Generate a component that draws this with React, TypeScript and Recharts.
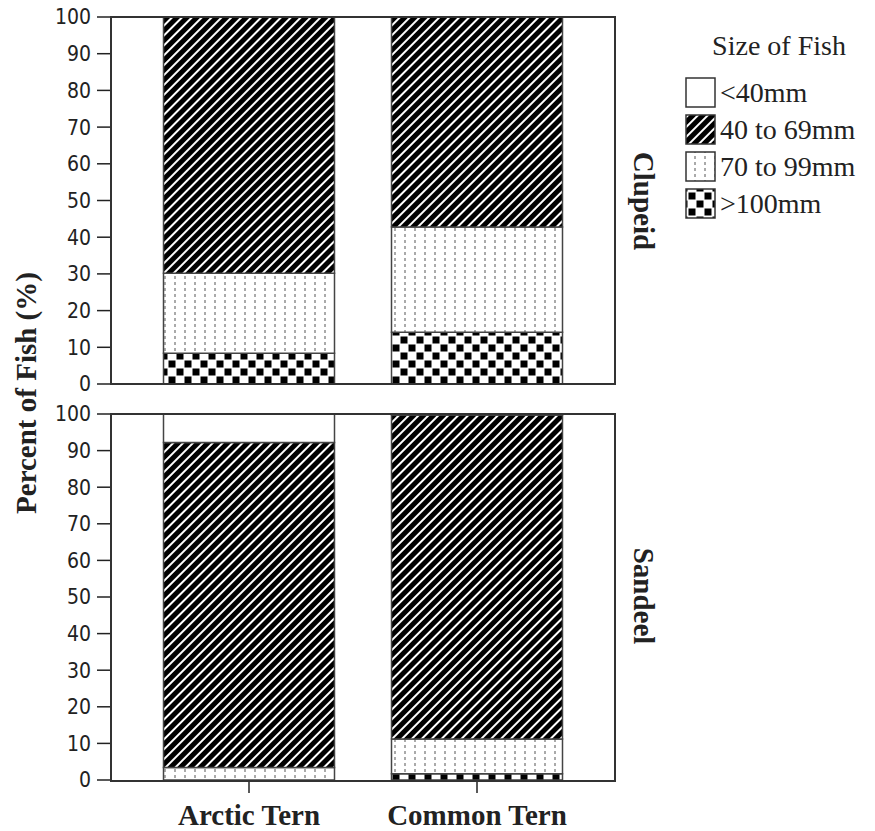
import React from "react"
import { BarChart, Bar, XAxis, YAxis } from "recharts"

// categories and legend labels
const terns = ["Arctic Tern", "Common Tern"]
const sizeLabels = ["<40mm", "40 to 69mm", "70 to 99mm", ">100mm"]
const yTicks = [0, 10, 20, 30, 40, 50, 60, 70, 80, 90, 100]

// Clupeid panel, percent of fish per size class
const clupeidOver100 = [8.4, 14.1]
const clupeid70to99 = [21.8, 28.7]
const clupeid40to69 = [69.8, 57.2]
const clupeidUnder40 = [0, 0]

// Sandeel panel
const sandeelOver100 = [0, 1.7]
const sandeel70to99 = [3.4, 9.5]
const sandeel40to69 = [88.8, 88.5]
const sandeelUnder40 = [7.8, 0.3]

const clupeidData = terns.map((tern, i) => ({
  tern,
  over100: clupeidOver100[i],
  mid: clupeid70to99[i],
  small: clupeid40to69[i],
  under40: clupeidUnder40[i],
}))

const sandeelData = terns.map((tern, i) => ({
  tern,
  over100: sandeelOver100[i],
  mid: sandeel70to99[i],
  small: sandeel40to69[i],
  under40: sandeelUnder40[i],
}))

const fills = ["#ffffff", "url(#stripes)", "url(#dots)", "url(#chk)"]

const serif = "'Liberation Serif', 'Times New Roman', serif"
const narrow = "'Liberation Sans Narrow', 'DejaVu Sans Condensed', sans-serif"
const ink = "#222"

function Patterns() {
  return (
    <svg width={0} height={0} style={{ position: "absolute" }}>
      <defs>
        <pattern id="stripes" patternUnits="userSpaceOnUse" width={7} height={7} patternTransform="rotate(45)">
          <rect width={7} height={7} fill="#000" />
          <rect x={0} y={0} width={2} height={7} fill="#fff" />
        </pattern>
        <pattern id="dots" patternUnits="userSpaceOnUse" width={10} height={6}>
          <rect width={10} height={6} fill="#fff" />
          <line x1={5} y1={0} x2={5} y2={3} stroke="#555" strokeWidth={1} />
        </pattern>
        <pattern id="chk" patternUnits="userSpaceOnUse" width={16} height={16}>
          <rect width={16} height={16} fill="#fff" />
          <rect x={0.5} y={0.5} width={7} height={7} fill="#000" />
          <rect x={8.5} y={8.5} width={7} height={7} fill="#000" />
        </pattern>
      </defs>
    </svg>
  )
}

function Panel({ data, top, showX }: { data: any[]; top: number; showX: boolean }) {
  const height = showX ? 434 : 400
  return (
    <div style={{ position: "absolute", left: 0, top }}>
      <BarChart
        width={616}
        height={height}
        data={data}
        margin={{ top: 17, right: 1, bottom: showX ? 0 : 16, left: 0 }}
        barCategoryGap="12.5%"
      >
        <XAxis
          dataKey="tern"
          hide={!showX}
          height={51}
          padding={{ left: 24, right: 24 }}
          axisLine={false}
          tickSize={13}
          tickMargin={11}
          tickLine={{ stroke: ink, strokeWidth: 1.5 }}
          tick={{ fontSize: 29, fontFamily: serif, fontWeight: "bold", fill: ink }}
        />
        <YAxis
          width={111}
          domain={[0, 100]}
          ticks={yTicks}
          interval={0}
          axisLine={false}
          tickSize={14}
          tickMargin={6}
          tickLine={{ stroke: ink, strokeWidth: 1.5 }}
          tick={{ fontSize: 21, fontFamily: narrow, fill: ink }}
        />
        <Bar dataKey="over100" stackId="s" fill={fills[3]} stroke="#444" strokeWidth={1.5} isAnimationActive={false} />
        <Bar dataKey="mid" stackId="s" fill={fills[2]} stroke="#444" strokeWidth={1.5} isAnimationActive={false} />
        <Bar dataKey="small" stackId="s" fill={fills[1]} stroke="#444" strokeWidth={1.5} isAnimationActive={false} />
        <Bar dataKey="under40" stackId="s" fill={fills[0]} stroke="#444" strokeWidth={1.5} isAnimationActive={false} />
      </BarChart>
      {/* panel frame */}
      <div
        style={{
          position: "absolute",
          left: 110,
          top: 16,
          width: 506,
          height: 369,
          border: "2px solid #333",
          boxSizing: "border-box",
          pointerEvents: "none",
        }}
      />
    </div>
  )
}

export default function App() {
  return (
    <div style={{ position: "absolute", left: 0, top: 0, width: 875, height: 831, background: "#fff" }}>
      <Patterns />
      <Panel data={clupeidData} top={0} showX={false} />
      <Panel data={sandeelData} top={397} showX={true} />

      <svg width={875} height={831} style={{ position: "absolute", left: 0, top: 0, pointerEvents: "none" }}>
        <text
          transform="translate(36,393) rotate(-90)"
          textAnchor="middle"
          fontFamily={serif}
          fontWeight="bold"
          fontSize={29}
          fill={ink}
        >
          Percent of Fish (%)
        </text>
        <text transform="translate(634,201) rotate(90)" textAnchor="middle" fontFamily={serif} fontWeight="bold" fontSize={29} fill={ink}>
          Clupeid
        </text>
        <text transform="translate(634,596) rotate(90)" textAnchor="middle" fontFamily={serif} fontWeight="bold" fontSize={29} fill={ink}>
          Sandeel
        </text>

        <text x={779} y={55} textAnchor="middle" fontFamily={serif} fontSize={28} fill={ink}>
          Size of Fish
        </text>
        {sizeLabels.map((label, i) => (
          <g key={label}>
            <rect x={686} y={78 + i * 37} width={29} height={29} fill={fills[i]} stroke="#333" strokeWidth={1.5} />
            <text x={720} y={102 + i * 37} fontFamily={serif} fontSize={28} fill={ink}>
              {label}
            </text>
          </g>
        ))}
      </svg>
    </div>
  )
}
